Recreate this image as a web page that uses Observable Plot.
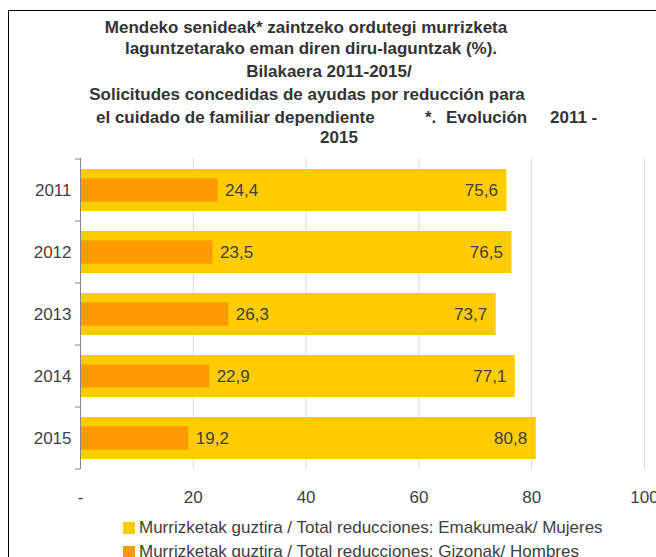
<!DOCTYPE html>
<html>
<head>
<meta charset="utf-8">
<script src="https://cdn.jsdelivr.net/npm/d3@7"></script>
<script src="https://cdn.jsdelivr.net/npm/@observablehq/plot@0.6"></script>
<style>
  html, body { margin: 0; padding: 0; background: #fff; }
  body { width: 656px; height: 557px; overflow: hidden; position: relative; font-family: "Liberation Sans", Arial, sans-serif; }
  #frame { position: absolute; left: 8px; top: 10px; width: 700px; height: 600px; border: 1px solid #000; box-sizing: border-box; }
  #title { position: absolute; left: 0; top: 0; }
  #chart { position: absolute; left: 0; top: 150px; }
  .leg { position: absolute; left: 123px; font-size: 17px; color: #404040; white-space: nowrap; line-height: 17px; }
  .sw { position: absolute; left: 0; top: 0; width: 12px; height: 12px; }
  .lt { position: absolute; left: 16px; top: -3px; }
</style>
</head>
<body>
<div id="frame"></div>
<svg id="title" width="656" height="150"></svg>
<div id="chart"></div>
<div id="legend"></div>
<script>
const years = ["2011", "2012", "2013", "2014", "2015"];
const mujeres = [75.6, 76.5, 73.7, 77.1, 80.8];
const hombres = [24.4, 23.5, 26.3, 22.9, 19.2];
const xTicks = [0, 20, 40, 60, 80, 100];
const xTickLabels = ["-", "20", "40", "60", "80", "100"];
const legendLabels = [
  "Murrizketak guztira / Total reducciones: Emakumeak/ Mujeres",
  "Murrizketak guztira / Total reducciones: Gizonak/ Hombres"
];
const colors = ["#FFCC00", "#FF9900"];
const titleLines = [
  "Mendeko senideak* zaintzeko ordutegi murrizketa",
  "laguntzetarako eman diren diru-laguntzak (%).",
  "Bilakaera 2011-2015/",
  "Solicitudes concedidas de ayudas por reducción para",
  ["el cuidado de familiar dependiente", "*.", "Evolución", "2011 -"],
  "2015"
];

const data = years.map((y, i) => ({year: y, mujeres: mujeres[i], hombres: hombres[i]}));
const fmt = v => v.toFixed(1).replace(".", ",");

// Title
const tsvg = d3.select("#title");
const tFont = {family: '"Liberation Sans", Arial, sans-serif', size: 17};
const centers = [306, 311, 329, 307, null, 339];
const baselines = [32.7, 54.3, 76.7, 100, 122.7, 143];
const line5x = [96, 425, 446, 550];
titleLines.forEach((ln, i) => {
  if (Array.isArray(ln)) {
    ln.forEach((piece, j) => {
      tsvg.append("text").attr("x", line5x[j]).attr("y", baselines[i])
        .attr("font-family", tFont.family).attr("font-size", tFont.size).attr("font-weight", "bold")
        .attr("fill", "#333").style("white-space", "pre").text(piece);
    });
  } else {
    tsvg.append("text").attr("x", centers[i]).attr("y", baselines[i]).attr("text-anchor", "middle")
      .attr("font-family", tFont.family).attr("font-size", tFont.size).attr("font-weight", "bold")
      .attr("fill", "#333").text(ln);
  }
});

// Chart
const chart = Plot.plot({
  width: 656,
  height: 370,
  marginLeft: 80,
  marginRight: 12,
  marginTop: 8,
  marginBottom: 51,
  style: {fontFamily: '"Liberation Sans", Arial, sans-serif', fontSize: "17px", color: "#404040", background: "transparent"},
  x: {domain: [0, 100], ticks: xTicks, tickFormat: d => xTickLabels[xTicks.indexOf(d)], tickSize: 0, tickPadding: 21, label: null},
  y: {domain: years, paddingInner: 0.33, paddingOuter: 0.165, tickSize: 0, tickPadding: 9, label: null},
  marks: [
    Plot.ruleX(xTicks.filter(d => d > 0), {stroke: "#d9d9d9", strokeWidth: 1}),
    Plot.barX(data, {x: "mujeres", y: "year", fill: colors[0]}),
    Plot.barX(data, {x: "hombres", y: "year", fill: colors[1], insetTop: 9.4, insetBottom: 9.4}),
    Plot.text(data, {x: "hombres", y: "year", text: d => fmt(d.hombres), textAnchor: "start", dx: 7, fill: "#404040", fontSize: 17}),
    Plot.text(data, {x: "mujeres", y: "year", text: d => fmt(d.mujeres), textAnchor: "end", dx: -9, fill: "#404040", fontSize: 17}),
    Plot.ruleX([0], {stroke: "#868686", strokeWidth: 1})
  ]
});
document.getElementById("chart").appendChild(chart);

// band boundary ticks on the y axis, from the library's y scale
const ys = chart.scale("y");
const step = ys.step != null ? ys.step : (ys.range[1] - ys.range[0]) / years.length;
const bw = ys.bandwidth;
const bounds = years.map(y => ys.apply(y) - (step - bw) / 2);
bounds.push(bounds[bounds.length - 1] + step);
const x0 = chart.scale("x").apply(0);
const g = d3.select(chart).append("g");
bounds.forEach(b => {
  g.append("line").attr("x1", x0 - 5).attr("x2", x0).attr("y1", b).attr("y2", b)
    .attr("stroke", "#868686").attr("stroke-width", 1);
});

// Legend
const leg = d3.select("#legend");
legendLabels.forEach((lab, i) => {
  const row = leg.append("div").attr("class", "leg").style("top", (522 + i * 24) + "px");
  row.append("div").attr("class", "sw").style("background", colors[i]);
  row.append("div").attr("class", "lt").text(lab);
});
</script>
</body>
</html>
